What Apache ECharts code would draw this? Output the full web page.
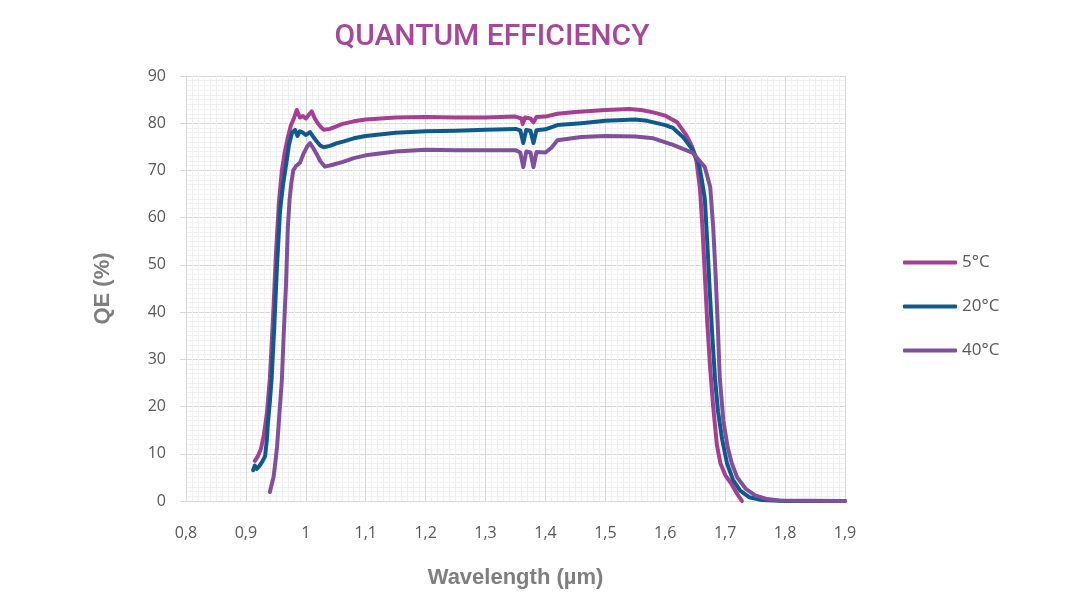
<!DOCTYPE html>
<html>
<head>
<meta charset="utf-8">
<script src="https://cdn.jsdelivr.net/npm/echarts@6/dist/echarts.min.js"></script>
<style>html,body{margin:0;padding:0;background:#fff}#c{width:1067px;height:613px}</style>
</head>
<body>
<div id="c"></div>
<script>
const seriesNames = ['5°C', '20°C', '40°C'];
const seriesColors = ['#a63e94', '#0f5a8c', '#80509c'];

const qe5 = [[0.915,8.5],[0.92,9.5],[0.925,11],[0.93,14],[0.935,18.5],[0.94,26],[0.945,38],[0.95,52],[0.955,63],[0.96,70],[0.965,74],[0.97,77],[0.975,79.5],[0.98,81],[0.985,82.8],[0.99,81.2],[0.995,81.5],[1.0,81],[1.005,81.8],[1.01,82.5],[1.015,81],[1.02,80],[1.025,79.2],[1.03,78.6],[1.04,78.8],[1.05,79.3],[1.06,79.8],[1.08,80.4],[1.1,80.8],[1.15,81.2],[1.2,81.3],[1.25,81.2],[1.3,81.2],[1.35,81.4],[1.36,81],[1.362,79.8],[1.366,81.2],[1.375,81],[1.38,80.2],[1.385,81.3],[1.4,81.4],[1.42,82],[1.45,82.4],[1.5,82.8],[1.54,83],[1.56,82.8],[1.58,82.3],[1.6,81.6],[1.62,80.2],[1.635,77.5],[1.645,75],[1.652,72],[1.658,66],[1.662,58],[1.666,48],[1.67,38],[1.675,28],[1.68,20],[1.686,12],[1.692,8],[1.7,5.5],[1.711,3.5],[1.72,1.5],[1.728,0]];

const qe20 = [[0.912,6.5],[0.915,7.5],[0.918,6.8],[0.923,7.5],[0.928,8.5],[0.932,9.5],[0.935,13],[0.937,17],[0.94,21],[0.943,26],[0.947,36],[0.952,50],[0.957,61.5],[0.962,67],[0.968,72],[0.972,75.5],[0.977,78],[0.982,78.6],[0.986,77.3],[0.99,78.3],[0.995,78],[1.0,77.5],[1.007,78.1],[1.012,77.2],[1.018,76.2],[1.024,75.3],[1.03,74.9],[1.04,75.2],[1.05,75.7],[1.062,76.1],[1.08,76.8],[1.1,77.3],[1.15,78],[1.2,78.3],[1.25,78.4],[1.3,78.6],[1.35,78.8],[1.358,78.5],[1.363,75.8],[1.368,78.6],[1.375,78.4],[1.38,75.8],[1.385,78.5],[1.4,78.7],[1.42,79.6],[1.46,80],[1.5,80.5],[1.53,80.7],[1.55,80.8],[1.57,80.5],[1.6,79.6],[1.613,79],[1.63,77],[1.646,74.3],[1.656,71.5],[1.661,68],[1.666,64],[1.67,55],[1.674,45],[1.678,36],[1.683,26],[1.688,19],[1.695,13],[1.703,8],[1.713,4.5],[1.725,2.2],[1.74,0.8],[1.761,0.2],[1.8,0],[1.9,0]];

const qe40 = [[0.94,1.9],[0.943,3.5],[0.946,5],[0.949,8],[0.952,11.5],[0.954,15],[0.956,18.6],[0.96,25.6],[0.963,35],[0.967,46],[0.97,58],[0.973,64],[0.976,67.5],[0.979,70],[0.984,71],[0.99,71.6],[0.996,73.5],[1.002,75],[1.007,75.8],[1.012,74.8],[1.018,73.5],[1.024,72],[1.032,70.8],[1.045,71.2],[1.062,71.8],[1.08,72.6],[1.1,73.2],[1.15,74],[1.2,74.4],[1.25,74.3],[1.3,74.3],[1.35,74.3],[1.358,73.8],[1.363,70.7],[1.368,74],[1.375,73.8],[1.38,70.7],[1.385,73.9],[1.4,73.8],[1.41,74.8],[1.42,76.4],[1.46,77.1],[1.5,77.3],[1.55,77.2],[1.58,76.8],[1.613,75.4],[1.646,73.7],[1.666,70.7],[1.675,66.5],[1.68,58],[1.684,48],[1.688,36],[1.691,26],[1.697,17],[1.704,11.5],[1.711,8],[1.72,5],[1.735,2.5],[1.75,1.2],[1.77,0.4],[1.79,0.1],[1.9,0]];

const seriesData = [qe5, qe20, qe40];

const chart = echarts.init(document.getElementById('c'), null, {renderer: 'canvas'});
chart.setOption({
  animation: false,
  backgroundColor: '#ffffff',
  title: {
    text: 'QUANTUM EFFICIENCY',
    left: 487, top: 17, textAlign: 'center',
    textStyle: {color: '#a8479a', fontSize: 30, fontWeight: 500, fontFamily: 'Roboto'}
  },
  legend: {
    orient: 'vertical', left: 898, top: 249, itemWidth: 54, itemHeight: 4, itemGap: 27,
    icon: 'roundRect',
    textStyle: {color: '#595959', fontSize: 17, fontFamily: 'Open Sans'},
    data: seriesNames
  },
  grid: {left: 186, right: 222, top: 76, bottom: 112, containLabel: false},
  xAxis: {
    type: 'value', min: 0.8, max: 1.9, interval: 0.1,
    name: 'Wavelength (µm)', nameLocation: 'middle', nameGap: 66,
    nameTextStyle: {color: '#7f7f7f', fontSize: 22, fontWeight: 'bold', fontFamily: 'Liberation Sans'},
    axisLine: {show: true, lineStyle: {color: '#d9d9d9', width: 1}},
    axisTick: {show: false},
    axisLabel: {color: '#595959', fontSize: 16, fontFamily: 'Open Sans', margin: 24,
      formatter: v => { const r = Math.round(v*10)/10; return (Number.isInteger(r) ? String(r) : r.toFixed(1)).replace('.', ','); }},
    splitLine: {show: true, lineStyle: {color: '#d9d9d9', width: 1}},
    minorTick: {show: false, splitNumber: 10},
    minorSplitLine: {show: true, lineStyle: {color: '#f1f1f1', width: 1}}
  },
  yAxis: {
    type: 'value', min: 0, max: 90, interval: 10,
    name: 'QE (%)', nameLocation: 'middle', nameGap: 72,
    nameTextStyle: {color: '#7f7f7f', fontSize: 22, fontWeight: 'bold', fontFamily: 'Liberation Sans'},
    axisLine: {show: true, lineStyle: {color: '#d9d9d9', width: 1}},
    axisTick: {show: true, length: 6, lineStyle: {color: '#d9d9d9'}},
    axisLabel: {color: '#595959', fontSize: 16, fontFamily: 'Open Sans', margin: 20},
    splitLine: {show: true, lineStyle: {color: '#d9d9d9', width: 1}},
    minorTick: {show: false, splitNumber: 10},
    minorSplitLine: {show: true, lineStyle: {color: '#f1f1f1', width: 1}}
  },
  series: seriesNames.map((n, i) => ({
    name: n, type: 'line', data: seriesData[i], showSymbol: false, symbol: 'none',
    smooth: false, color: seriesColors[i],
    lineStyle: {width: 4, color: seriesColors[i], cap: 'round', join: 'round'}
  }))
});
</script>
</body>
</html>
